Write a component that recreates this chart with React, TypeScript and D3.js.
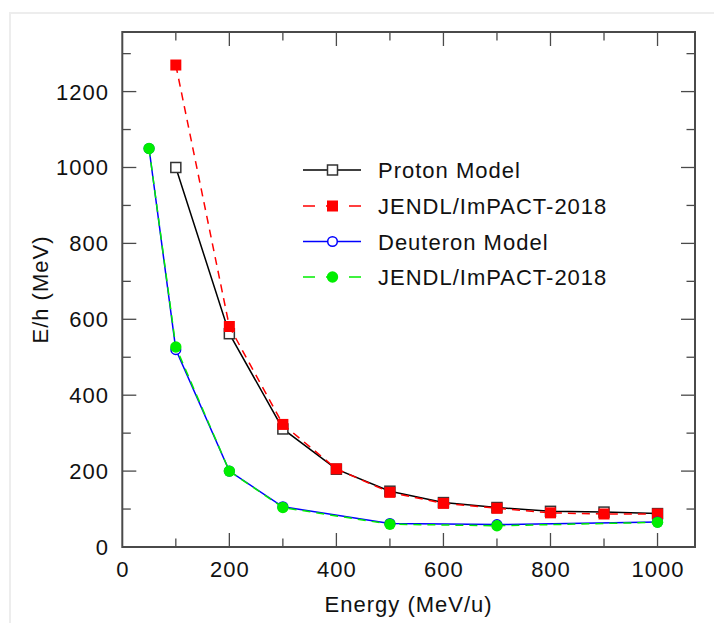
import React, { useEffect, useRef } from "react"
import * as d3 from "d3"

// energies (MeV/u)
const protonEnergy = [100, 200, 300, 400, 500, 600, 700, 800, 900, 1000]
const protonModel = [1000, 562, 311, 205, 147, 117, 104, 94, 92, 88]
const protonJendl = [1270, 581, 323, 206, 144, 115, 102, 90, 87, 87]

const deuteronEnergy = [50, 100, 200, 300, 500, 700, 1000]
const deuteronModel = [1050, 520, 200, 106, 62, 59, 66]
const deuteronJendl = [1050, 527, 200, 104, 60, 56, 65]

const xLabels = [0, 200, 400, 600, 800, 1000]
const yLabels = [0, 200, 400, 600, 800, 1000, 1200]

const legendLabels = ["Proton Model", "JENDL/ImPACT-2018", "Deuteron Model", "JENDL/ImPACT-2018"]

const font = "'Liberation Sans', Arial, sans-serif"

const App = () => {
  const ref = useRef<SVGSVGElement>(null)

  useEffect(() => {
    const svg = d3.select(ref.current)
    svg.selectAll("*").remove()

    const left = 122.3, right = 695, top = 32, bottom = 547

    // faint card frame
    svg.append("rect")
      .attr("x", 10).attr("y", 13).attr("width", 730).attr("height", 640)
      .attr("fill", "white").attr("stroke", "#ededed").attr("stroke-width", 2)

    const x = d3.scaleLinear().domain([0, 1070]).range([left, right])
    const y = d3.scaleLinear().domain([0, 1357]).range([bottom, top])

    const axisColor = "#4a4a4a"
    const g = svg.append("g")

    // ticks, inward on all four sides
    const xt = d3.range(100, 1001, 100)
    xt.forEach(v => {
      const len = v % 200 === 0 ? 14 : 8.5
      g.append("line").attr("x1", x(v)).attr("x2", x(v)).attr("y1", bottom).attr("y2", bottom - len)
        .attr("stroke", axisColor).attr("stroke-width", 1.3)
      g.append("line").attr("x1", x(v)).attr("x2", x(v)).attr("y1", top).attr("y2", top + len)
        .attr("stroke", axisColor).attr("stroke-width", 1.3)
    })
    const yt = d3.range(100, 1301, 100)
    yt.forEach(v => {
      const len = v % 200 === 0 ? 14 : 8.5
      g.append("line").attr("y1", y(v)).attr("y2", y(v)).attr("x1", left).attr("x2", left + len)
        .attr("stroke", axisColor).attr("stroke-width", 1.3)
      g.append("line").attr("y1", y(v)).attr("y2", y(v)).attr("x1", right).attr("x2", right - len)
        .attr("stroke", axisColor).attr("stroke-width", 1.3)
    })

    g.append("rect")
      .attr("x", left).attr("y", top).attr("width", right - left).attr("height", bottom - top)
      .attr("fill", "none").attr("stroke", axisColor).attr("stroke-width", 2)

    // tick labels
    const lab = svg.append("g").attr("font-family", font).attr("font-size", 22)
      .attr("letter-spacing", 1).attr("fill", "#111")
    xLabels.forEach(v => {
      lab.append("text").attr("x", x(v) + 0.5).attr("y", 577).attr("text-anchor", "middle").text(v)
    })
    yLabels.forEach(v => {
      lab.append("text").attr("x", 109).attr("y", y(v) + 8).attr("text-anchor", "end").text(v)
    })

    lab.append("text").attr("x", (left + right) / 2).attr("y", 612).attr("text-anchor", "middle")
      .text("Energy (MeV/u)")
    lab.append("text").attr("transform", `translate(48, ${(top + bottom) / 2}) rotate(-90)`)
      .attr("text-anchor", "middle").text("E/h (MeV)")

    const line = d3.line<[number, number]>().x(d => x(d[0])).y(d => y(d[1]))
    const pts = (xs: number[], ys: number[]) => xs.map((v, i) => [v, ys[i]] as [number, number])

    const series = [
      { data: pts(protonEnergy, protonModel), color: "#000", dash: null, marker: "square", fill: "white" },
      { data: pts(protonEnergy, protonJendl), color: "#ff0000", dash: "8,6", marker: "square", fill: "#ff0000" },
      { data: pts(deuteronEnergy, deuteronModel), color: "#0000ff", dash: null, marker: "circle", fill: "white" },
      { data: pts(deuteronEnergy, deuteronJendl), color: "#00ee00", dash: "8,6", marker: "circle", fill: "#00ee00" },
    ]

    const drawMarker = (sel: any, s: any, cx: number, cy: number) => {
      const filled = s.fill !== "white"
      if (s.marker === "square") {
        const size = filled ? 11 : 10
        sel.append("rect").attr("x", cx - size / 2).attr("y", cy - size / 2)
          .attr("width", size).attr("height", size)
          .attr("fill", s.fill).attr("stroke", filled ? "none" : "#333").attr("stroke-width", 1.5)
      } else {
        sel.append("circle").attr("cx", cx).attr("cy", cy).attr("r", filled ? 5.7 : 4.8)
          .attr("fill", s.fill).attr("stroke", filled ? "none" : s.color).attr("stroke-width", 1.5)
      }
    }

    const plot = svg.append("g")
    series.forEach(s => {
      const p = plot.append("path").attr("d", line(s.data)).attr("fill", "none")
        .attr("stroke", s.color).attr("stroke-width", 1.5)
      if (s.dash) p.attr("stroke-dasharray", s.dash)
      s.data.forEach(d => drawMarker(plot, s, x(d[0]), y(d[1])))
    })

    // legend
    const leg = svg.append("g")
    const rowY = [170, 206, 241.5, 277]
    series.forEach((s, i) => {
      const ly = rowY[i]
      const l = leg.append("line").attr("x1", 303).attr("x2", 361).attr("y1", ly).attr("y2", ly)
        .attr("stroke", s.color).attr("stroke-width", 1.5)
      if (s.dash) l.attr("stroke-dasharray", "12,11")
      drawMarker(leg, s, 332.5, ly)
      leg.append("text").attr("x", 378).attr("y", ly + 8).attr("font-family", font)
        .attr("font-size", 22).attr("letter-spacing", 1).attr("fill", "#111").text(legendLabels[i])
    })
  }, [])

  return (
    <div style={{ position: "absolute", left: 0, top: 0 }}>
      <svg ref={ref} width={714} height={623} style={{ display: "block" }} />
    </div>
  )
}

export default App
